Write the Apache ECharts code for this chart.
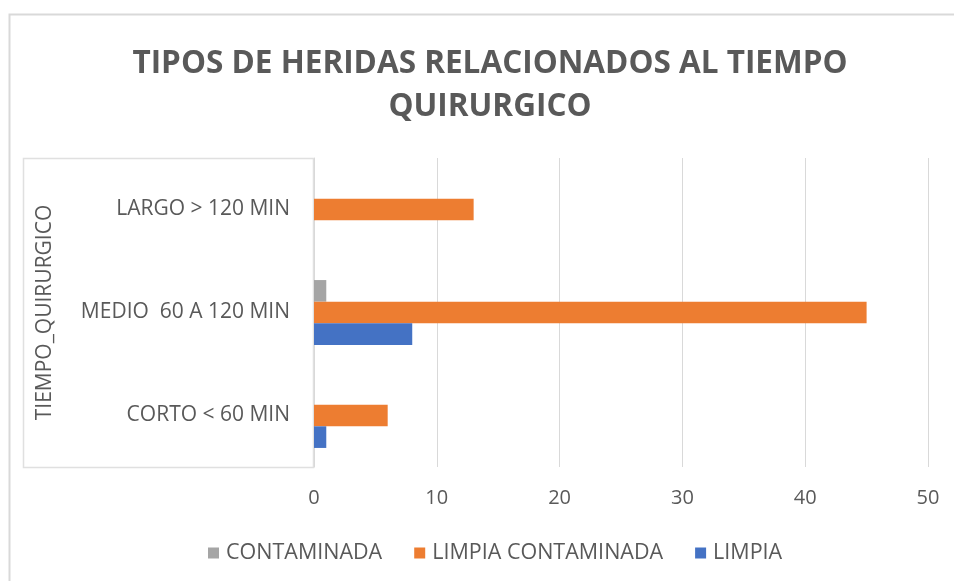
<!DOCTYPE html>
<html>
<head>
<meta charset="utf-8">
<title>Tipos de heridas</title>
<script src="https://cdn.jsdelivr.net/npm/echarts@6/dist/echarts.min.js"></script>
<style>
  html, body { margin: 0; padding: 0; background: #fff; }
  #main { width: 954px; height: 581px; }
</style>
</head>
<body>
<div id="main"></div>
<script>
// categorias (de abajo hacia arriba)
var categorias = ['CORTO < 60 MIN', 'MEDIO  60 A 120 MIN', 'LARGO > 120 MIN'];
var limpia = [1, 8, 0];
var limpiaContaminada = [6, 45, 13];
var contaminada = [0, 1, 0];
var ticksX = [0, 10, 20, 30, 40, 50];

var txt = '#595959';
var fuente = 'Open Sans';

var myChart = echarts.init(document.getElementById('main'));
myChart.setOption({
    animation: false,
    textStyle: { fontFamily: fuente },
    title: {
        text: 'TIPOS DE HERIDAS RELACIONADOS AL TIEMPO\nQUIRURGICO',
        left: 485,
        textAlign: 'center',
        top: 38,
        textStyle: { color: txt, fontSize: 31.5, fontWeight: 'bold', lineHeight: 43, fontFamily: fuente }
    },
    legend: {
        bottom: 12,
        left: 203,
        itemWidth: 11,
        itemHeight: 11,
        itemGap: 32,
        icon: 'rect',
        data: ['CONTAMINADA', 'LIMPIA CONTAMINADA', 'LIMPIA'],
        textStyle: { color: txt, fontSize: 21.5, padding: [0, 0, 0, 2] }
    },
    grid: { left: 314, right: 26, top: 158, bottom: 114 },
    xAxis: {
        type: 'value',
        min: ticksX[0],
        max: ticksX[ticksX.length - 1],
        interval: 10,
        axisLine: { show: false },
        axisTick: { show: false },
        splitLine: { lineStyle: { color: '#d9d9d9', width: 1 } },
        axisLabel: { color: txt, fontSize: 20, margin: 21 }
    },
    yAxis: {
        type: 'category',
        data: categorias,
        name: 'TIEMPO_QUIRURGICO',
        nameLocation: 'middle',
        nameGap: 258,
        nameTextStyle: { color: txt, fontSize: 21 },
        axisLine: { lineStyle: { color: '#d9d9d9' } },
        axisTick: { show: false },
        axisLabel: { color: txt, fontSize: 21, margin: 24 }
    },
    graphic: [
        { type: 'rect', shape: { x: 9.5, y: 14.5, width: 1000, height: 600 }, style: { fill: null, stroke: '#d9d9d9', lineWidth: 2 }, silent: true },
        { type: 'rect', shape: { x: 23.5, y: 158.5, width: 290, height: 309 }, style: { fill: null, stroke: '#e0e0e0', lineWidth: 1.5 }, silent: true }
    ],
    series: [
        { name: 'CONTAMINADA', type: 'bar', data: contaminada, barGap: '0%', barCategoryGap: '37%', itemStyle: { color: '#A5A5A5' } },
        { name: 'LIMPIA CONTAMINADA', type: 'bar', data: limpiaContaminada, itemStyle: { color: '#ED7D31' } },
        { name: 'LIMPIA', type: 'bar', data: limpia, itemStyle: { color: '#4472C4' } }
    ]
});
</script>
</body>
</html>
